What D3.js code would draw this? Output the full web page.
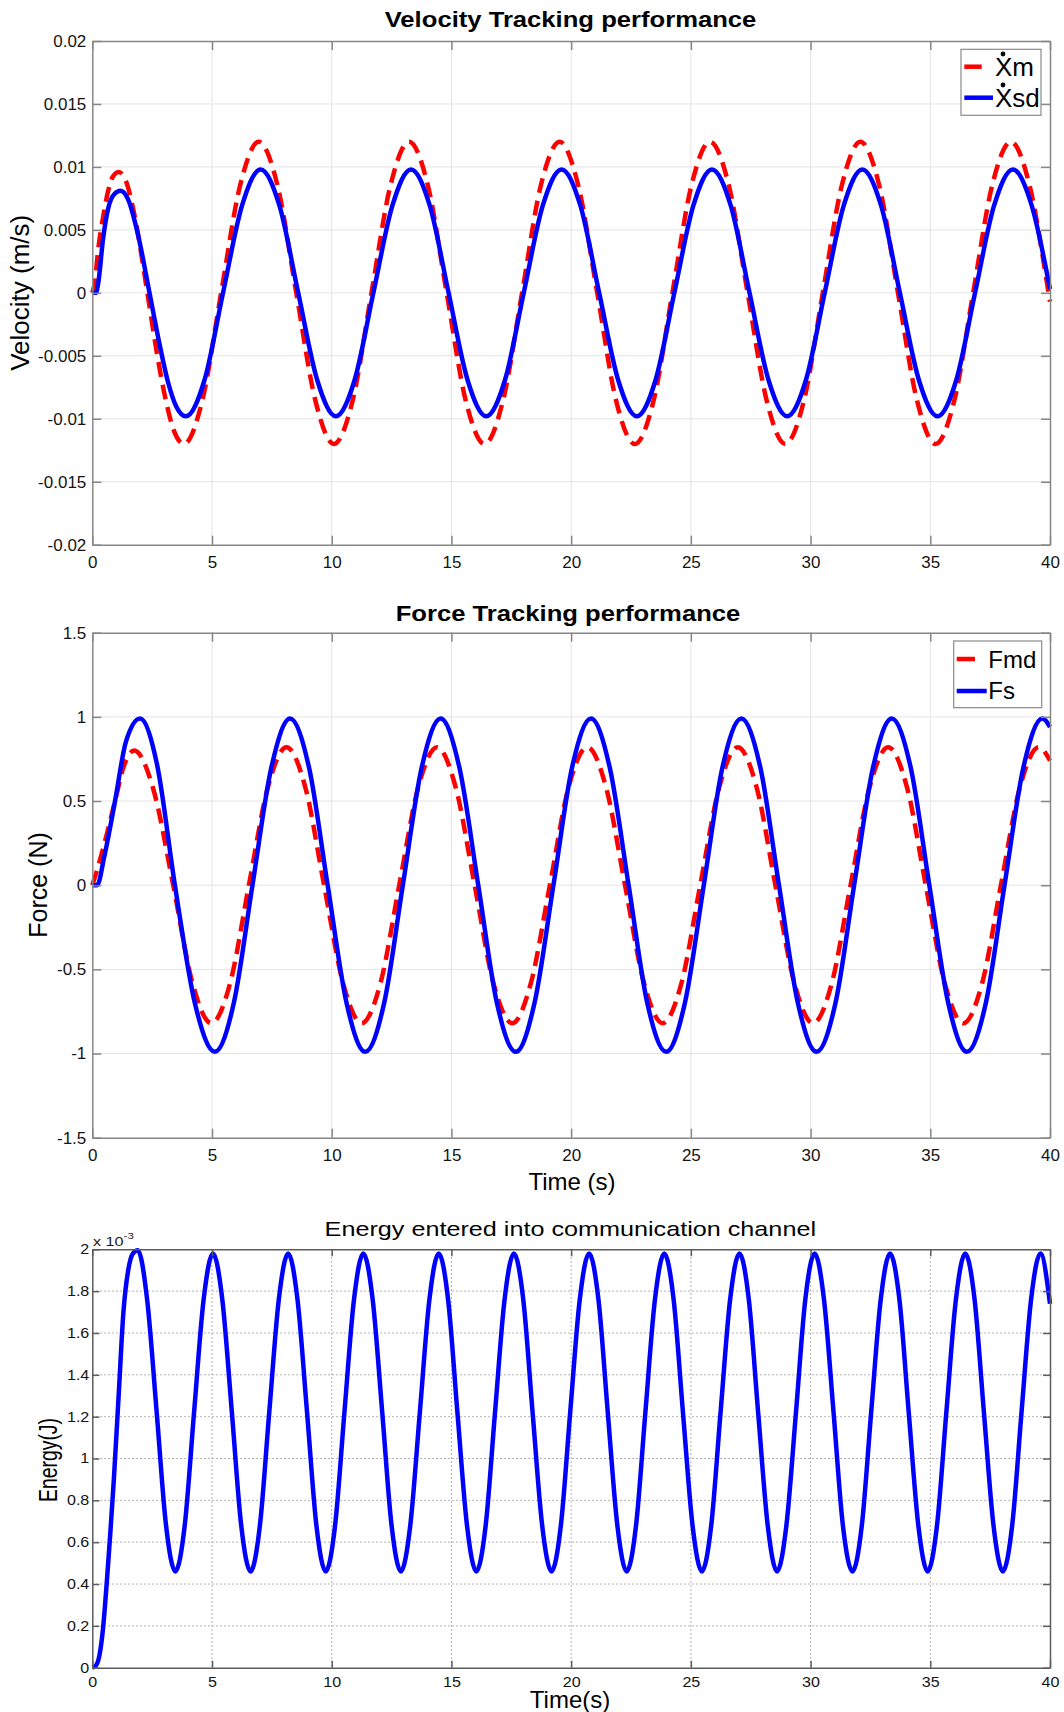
<!DOCTYPE html>
<html><head><meta charset="utf-8">
<script src="https://cdn.jsdelivr.net/npm/d3@7"></script>
<style>
body{margin:0;background:#fff}
svg{display:block}
text{font-family:"Liberation Sans",Arial,Helvetica,sans-serif}
</style>
</head><body>
<svg id="c" width="1064" height="1712"></svg>
<script>
// ---------------- data ----------------
const timeTicks = [0, 5, 10, 15, 20, 25, 30, 35, 40];
const velocityTicks = [-0.02, -0.015, -0.01, -0.005, 0, 0.005, 0.01, 0.015, 0.02];
const forceTicks = [-1.5, -1, -0.5, 0, 0.5, 1, 1.5];
const energyTicks = [0, 0.2, 0.4, 0.6, 0.8, 1, 1.2, 1.4, 1.6, 1.8, 2];

const titles = ["Velocity Tracking performance", "Force Tracking performance", "Energy entered into communication channel"];
const velocityLegend = ["Xm", "Xsd"];
const forceLegend = ["Fmd", "Fs"];

// [time (s), velocity (m/s)]
const velocityXm = [[0,0],[0.1,0.0008],[0.25,0.0035],[0.45,0.006],[0.65,0.008],[0.85,0.0092],[1.1,0.0096],[1.4,0.0089],[1.8,0.0058],[2.3,0],[2.7,-0.0048],[3.0,-0.0079],[3.4,-0.0109],[3.83,-0.012],[4.6,-0.0085],[5.38,0],[6.17,0.0085],[6.95,0.012],[7.74,0.0085],[8.52,0],[9.31,-0.0085],[10.09,-0.012],[10.88,-0.0085],[11.66,0],[12.45,0.0085],[13.23,0.012],[14.02,0.0085],[14.8,0],[15.59,-0.0085],[16.38,-0.012],[17.16,-0.0085],[17.95,0],[18.73,0.0085],[19.52,0.012],[20.3,0.0085],[21.09,0],[21.87,-0.0085],[22.66,-0.012],[23.45,-0.0085],[24.23,0],[25.02,0.0085],[25.8,0.012],[26.59,0.0085],[27.37,0],[28.16,-0.0085],[28.94,-0.012],[29.73,-0.0085],[30.51,0],[31.3,0.0085],[32.08,0.012],[32.87,0.0085],[33.65,0],[34.44,-0.0085],[35.22,-0.012],[36.01,-0.0085],[36.79,0],[37.58,0.0085],[38.37,0.012],[39.15,0.0085],[39.94,0],[40,-0.0007]];
const velocityXsd = [[0,0],[0.15,0],[0.25,0.0008],[0.45,0.0043],[0.65,0.0066],[0.9,0.0078],[1.18,0.0081],[1.5,0.0074],[1.9,0.0047],[2.39,0],[2.8,-0.004],[3.15,-0.007],[3.5,-0.009],[3.91,-0.0098],[4.69,-0.0069],[5.46,0],[6.25,0.0069],[7.03,0.0098],[7.82,0.0069],[8.6,0],[9.39,-0.0069],[10.17,-0.0098],[10.96,-0.0069],[11.74,0],[12.53,0.0069],[13.31,0.0098],[14.1,0.0069],[14.88,0],[15.67,-0.0069],[16.45,-0.0098],[17.24,-0.0069],[18.02,0],[18.81,0.0069],[19.6,0.0098],[20.39,0.0069],[21.17,0],[21.96,-0.0069],[22.74,-0.0098],[23.53,-0.0069],[24.31,0],[25.1,0.0069],[25.88,0.0098],[26.67,0.0069],[27.45,0],[28.24,-0.0069],[29.02,-0.0098],[29.81,-0.0069],[30.59,0],[31.38,0.0069],[32.16,0.0098],[32.95,0.0069],[33.73,0],[34.52,-0.0069],[35.3,-0.0098],[36.09,-0.0069],[36.87,0],[37.66,0.0069],[38.45,0.0098],[39.24,0.0069],[40,0.0003]];

// [time (s), force (N)]
const forceFmd = [[0,0],[0.2,0.09],[0.6,0.3],[0.95,0.5],[1.3,0.7],[1.75,0.8],[2.55,0.57],[3.38,0],[4.18,-0.58],[4.97,-0.82],[5.76,-0.58],[6.54,0],[7.33,0.58],[8.11,0.82],[8.9,0.58],[9.68,0],[10.47,-0.58],[11.25,-0.82],[12.04,-0.58],[12.82,0],[13.61,0.58],[14.4,0.82],[15.18,0.58],[15.97,0],[16.75,-0.58],[17.54,-0.82],[18.32,-0.58],[19.11,0],[19.89,0.58],[20.68,0.82],[21.46,0.58],[22.25,0],[23.04,-0.58],[23.82,-0.82],[24.61,-0.58],[25.39,0],[26.18,0.58],[26.96,0.82],[27.75,0.58],[28.53,0],[29.32,-0.58],[30.1,-0.82],[30.89,-0.58],[31.67,0],[32.46,0.58],[33.24,0.82],[34.03,0.58],[34.81,0],[35.6,-0.58],[36.38,-0.82],[37.17,-0.58],[37.95,0],[38.74,0.58],[39.53,0.82],[40,0.74]];
const forceFs = [[0,0],[0.2,0],[0.5,0.17],[0.95,0.5],[1.4,0.85],[2.0,0.99],[2.7,0.72],[3.45,0],[4.3,-0.71],[5.12,-0.99],[5.91,-0.7],[6.69,0],[7.48,0.7],[8.26,0.99],[9.05,0.7],[9.83,0],[10.62,-0.7],[11.4,-0.99],[12.19,-0.7],[12.97,0],[13.76,0.7],[14.55,0.99],[15.33,0.7],[16.12,0],[16.9,-0.7],[17.69,-0.99],[18.47,-0.7],[19.26,0],[20.04,0.7],[20.83,0.99],[21.61,0.7],[22.4,0],[23.18,-0.7],[23.97,-0.99],[24.75,-0.7],[25.54,0],[26.32,0.7],[27.11,0.99],[27.9,0.7],[28.68,0],[29.47,-0.7],[30.25,-0.99],[31.04,-0.7],[31.82,0],[32.61,0.7],[33.39,0.99],[34.18,0.7],[34.96,0],[35.75,-0.7],[36.53,-0.99],[37.32,-0.7],[38.1,0],[38.89,0.7],[39.68,0.99],[40,0.94]];

// [time (s), energy (x 10^-3 J)]
const energyE3 = [[0,0],[0.15,0.01],[0.3,0.06],[0.45,0.19],[0.6,0.4],[0.75,0.64],[0.9,0.9],[1.1,1.3],[1.3,1.7],[1.5,1.9],[1.7,1.98],[1.9,1.995],
[2.29,1.76],[2.69,1.22],[3.08,0.68],[3.47,0.46],[3.86,0.68],[4.25,1.22],[4.65,1.76],
[5.04,1.98],[5.43,1.76],[5.83,1.22],[6.22,0.68],[6.61,0.46],[7.0,0.68],[7.39,1.22],[7.79,1.76],
[8.18,1.98],[8.57,1.76],[8.97,1.22],[9.36,0.68],[9.75,0.46],[10.14,0.68],[10.53,1.22],[10.93,1.76],
[11.32,1.98],[11.71,1.76],[12.11,1.22],[12.5,0.68],[12.89,0.46],[13.28,0.68],[13.68,1.22],[14.08,1.76],
[14.47,1.98],[14.86,1.76],[15.25,1.22],[15.65,0.68],[16.04,0.46],[16.43,0.68],[16.82,1.22],[17.22,1.76],
[17.61,1.98],[18.0,1.76],[18.39,1.22],[18.79,0.68],[19.18,0.46],[19.57,0.68],[19.96,1.22],[20.36,1.76],
[20.75,1.98],[21.14,1.76],[21.53,1.22],[21.93,0.68],[22.32,0.46],[22.71,0.68],[23.1,1.22],[23.5,1.76],
[23.89,1.98],[24.28,1.76],[24.67,1.22],[25.07,0.68],[25.46,0.46],[25.85,0.68],[26.24,1.22],[26.64,1.76],
[27.03,1.98],[27.42,1.76],[27.81,1.22],[28.21,0.68],[28.6,0.46],[28.99,0.68],[29.39,1.22],[29.78,1.76],
[30.17,1.98],[30.56,1.76],[30.96,1.22],[31.35,0.68],[31.75,0.46],[32.14,0.68],[32.53,1.22],[32.93,1.76],
[33.32,1.98],[33.71,1.76],[34.1,1.22],[34.5,0.68],[34.89,0.46],[35.28,0.68],[35.67,1.22],[36.07,1.76],
[36.46,1.98],[36.85,1.76],[37.24,1.22],[37.64,0.68],[38.03,0.46],[38.42,0.68],[38.81,1.22],[39.21,1.76],
[39.6,1.98],[40,1.74]];

// ---------------- drawing ----------------
const svg = d3.select("#c");
const L = 92.3, R = 1050;
const x = d3.scaleLinear().domain([0, 40]).range([L, R]);
const yV = d3.scaleLinear().domain([-0.02, 0.02]).range([544.7, 41]);
const yF = d3.scaleLinear().domain([-1.5, 1.5]).range([1137.7, 632.7]);
const yE = d3.scaleLinear().domain([0, 2]).range([1667.7, 1249.3]);

const RED = "#ff0000", BLUE = "#0000ff";

function grid(y, yTicks, o) {
  const top = y.range()[1], bot = y.range()[0];
  const g = svg.append("g");
  g.selectAll("line.gv").data(timeTicks.slice(1, -1)).join("line")
    .attr("x1", d => x(d)).attr("x2", d => x(d)).attr("y1", top).attr("y2", bot)
    .attr("stroke", o.gridColor).attr("stroke-width", 1).attr("stroke-dasharray", o.gridDash);
  g.selectAll("line.gh").data(yTicks.slice(1, -1)).join("line")
    .attr("x1", L).attr("x2", R).attr("y1", d => y(d)).attr("y2", d => y(d))
    .attr("stroke", o.gridColor).attr("stroke-width", 1).attr("stroke-dasharray", o.gridDash);
}

function axes(y, yTicks, o) {
  const top = y.range()[1], bot = y.range()[0];
  const g = svg.append("g");
  const fmt = d => String(d);
  const gb = g.append("g").attr("transform", `translate(0,${bot})`)
    .call(d3.axisBottom(x).tickValues(timeTicks).tickSize(-o.tick).tickSizeOuter(0).tickPadding(o.xPad).tickFormat(fmt));
  const gt = g.append("g").attr("transform", `translate(0,${top})`)
    .call(d3.axisTop(x).tickValues(timeTicks).tickSize(-o.tick).tickSizeOuter(0).tickFormat(() => ""));
  const gl = g.append("g").attr("transform", `translate(${L},0)`)
    .call(d3.axisLeft(y).tickValues(yTicks).tickSize(-o.tick).tickSizeOuter(0).tickPadding(o.yPad).tickFormat(fmt));
  const gr = g.append("g").attr("transform", `translate(${R},0)`)
    .call(d3.axisRight(y).tickValues(yTicks).tickSize(-o.tick).tickSizeOuter(0).tickFormat(() => ""));
  [gb, gt, gl, gr].forEach(a => {
    a.attr("font-family", null).attr("font-size", null);
    a.selectAll("path,line").attr("stroke", o.axisColor).attr("stroke-width", o.axisW);
    a.selectAll("text").attr("fill", "#141414").style("font-size", o.font + "px");
  });
  if (o.sx) {
    gb.selectAll("text").attr("transform", `scale(${o.sx},1)`);
    gl.selectAll("text").attr("transform", `scale(${o.sx},1)`);
  }
}

function series(data, y, color, dash, w) {
  svg.append("path").datum(data)
    .attr("d", d3.line().x(d => x(d[0])).y(d => y(d[1])).curve(d3.curveMonotoneX))
    .attr("fill", "none").attr("stroke", color).attr("stroke-width", w)
    .attr("stroke-dasharray", dash).attr("stroke-linejoin", "round");
}

function label(txt, px, py, o) {
  const t = svg.append("text").text(txt)
    .attr("text-anchor", o.anchor || "middle")
    .attr("transform", `translate(${px},${py}) scale(${o.sx || 1},1) rotate(${o.rot || 0})`)
    .style("font-size", o.size + "px").attr("fill", o.fill || "#000");
  if (o.bold) t.style("font-weight", "bold");
  return t;
}

// ---- Panel 1: velocity ----
const st12 = {gridColor: "#e4e4e4", gridDash: null, tick: 9, xPad: 11, yPad: 6, axisColor: "#878787", axisW: 1.5, font: 17};
grid(yV, velocityTicks, st12);
series(velocityXm, yV, RED, "15,8", 4.5);
series(velocityXsd, yV, BLUE, null, 4.5);
axes(yV, velocityTicks, st12);
label(titles[0], 570.5, 26.7, {size: 22, bold: true, sx: 1.165});
label("Velocity (m/s)", 28.9, 292.8, {size: 26, rot: -90});

// legend 1
svg.append("rect").attr("x", 961).attr("y", 49.3).attr("width", 80).attr("height", 66)
  .attr("fill", "#fff").attr("stroke", "#8a8a8a").attr("stroke-width", 1.2);
svg.append("line").attr("x1", 964.3).attr("x2", 981.7).attr("y1", 66.7).attr("y2", 66.7).attr("stroke", RED).attr("stroke-width", 4.5);
svg.append("line").attr("x1", 964.3).attr("x2", 993).attr("y1", 97.7).attr("y2", 97.7).attr("stroke", BLUE).attr("stroke-width", 4.5);
label(velocityLegend[0], 995, 76, {size: 26, anchor: "start"});
label(velocityLegend[1], 995, 107.3, {size: 26, anchor: "start"});
svg.append("circle").attr("cx", 1003).attr("cy", 54).attr("r", 2.4).attr("fill", "#000");
svg.append("circle").attr("cx", 1003).attr("cy", 85).attr("r", 2.4).attr("fill", "#000");

// ---- Panel 2: force ----
grid(yF, forceTicks, st12);
series(forceFmd, yF, RED, "15,8", 4.5);
series(forceFs, yF, BLUE, null, 4.5);
axes(yF, forceTicks, st12);
label(titles[1], 568, 620.7, {size: 22, bold: true, sx: 1.165});
label("Force (N)", 46.7, 885, {size: 25, rot: -90});
label("Time (s)", 572, 1190, {size: 24});

// legend 2
svg.append("rect").attr("x", 953.7).attr("y", 641).attr("width", 88).attr("height", 66.7)
  .attr("fill", "#fff").attr("stroke", "#8a8a8a").attr("stroke-width", 1.2);
svg.append("line").attr("x1", 956.7).attr("x2", 975).attr("y1", 659).attr("y2", 659).attr("stroke", RED).attr("stroke-width", 4.5);
svg.append("line").attr("x1", 956.7).attr("x2", 986.7).attr("y1", 691).attr("y2", 691).attr("stroke", BLUE).attr("stroke-width", 4.5);
label(forceLegend[0], 988.3, 668.3, {size: 24, anchor: "start"});
label(forceLegend[1], 988.3, 699.3, {size: 24, anchor: "start"});

// ---- Panel 3: energy ----
const st3 = {gridColor: "#9a9a9a", gridDash: "1.5,2.5", tick: 7, xPad: 9, yPad: 2.6, axisColor: "#5c5c5c", axisW: 1.5, font: 14, sx: 1.15};
grid(yE, energyTicks, st3);
series(energyE3, yE, BLUE, null, 4.5);
axes(yE, energyTicks, st3);
label(titles[2], 570.3, 1235.7, {size: 20, sx: 1.26});
label("Energy(J)", 57, 1460, {size: 19.4, rot: -90, sx: 1.3});
label("Time(s)", 570, 1708, {size: 24});
const exp = svg.append("text").attr("transform", "translate(93,1246) scale(1.2,1)").attr("fill", "#1a1a1a");
exp.append("tspan").text("x 10").style("font-size", "13.5px");
exp.append("tspan").text("-3").attr("dy", -7).style("font-size", "9.5px");
</script>
</body></html>
